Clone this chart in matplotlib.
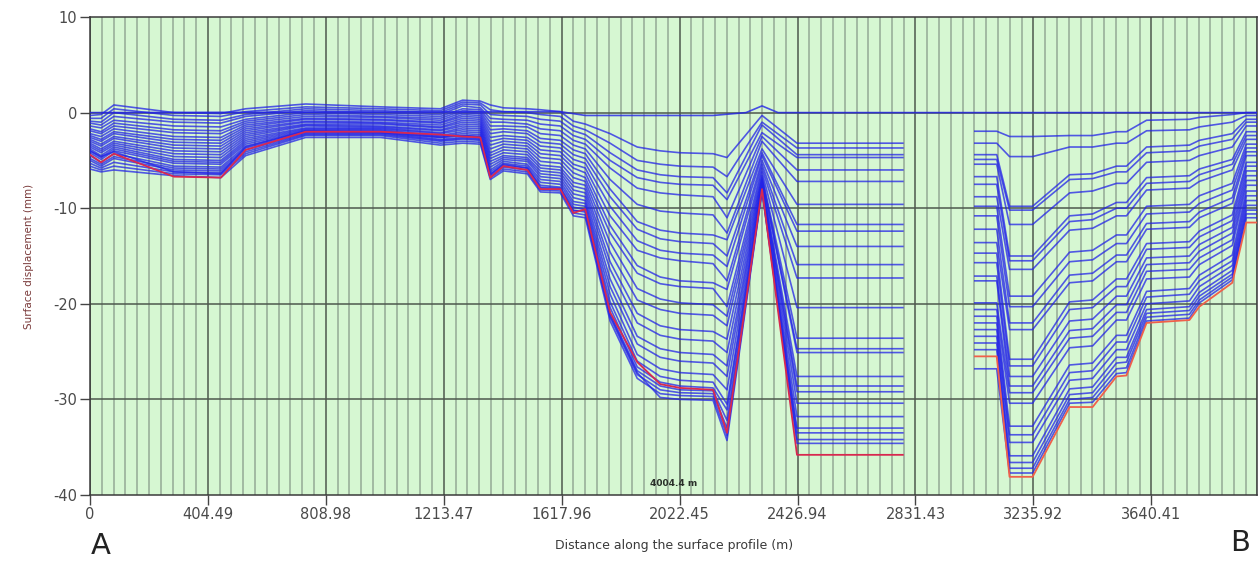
import numpy as np
import matplotlib
matplotlib.use('Agg')
import matplotlib.pyplot as plt

plt.rcParams['axes.unicode_minus'] = False

# vertex positions along the profile (m), two measured stretches with a gap between
seg1_x = [0, 38, 82, 288, 449, 534, 740, 997, 1202, 1278, 1339, 1373, 1418, 1500, 1545,
          1613, 1658, 1699, 1784, 1877, 1956, 2024, 2137, 2185, 2305, 2425, 2788]
seg2_x = [3035, 3110, 3154, 3233, 3360, 3439, 3521, 3555, 3624, 3771, 3805, 3918, 3966, 4004]

# first epoch (reference), runs across the whole profile
base_x = [0, 1613, 1699, 2137, 2250, 2305, 2360, 4004]
base_y = [0, 0.1, -0.3, -0.3, 0, 0.7, 0, 0]

# last epoch (red)
final_seg1 = [-4.4, -5.2, -4.3, -6.7, -6.8, -3.9, -2.0, -2.0, -2.3, -2.5, -2.6, -6.8, -5.6, -6.0,
              -8.0, -8.0, -10.5, -10.1, -20.9, -26.1, -28.4, -28.8, -29.0, -33.5, -8.0, -35.8, -35.8]
final_seg2 = [-25.5, -25.5, -38.1, -38.1, -30.8, -30.8, -27.6, -27.5, -22.0, -21.7, -20.3, -17.8,
              -11.5, -11.5]

# intermediate epochs (blue): one row per vertex, one value per epoch
seg1_levels = [
    [-0.3, -0.6, -0.9, -1.1, -1.4, -1.7, -1.9, -2.2, -2.4, -2.6, -2.8, -3.0, -3.2, -3.4, -3.6, -3.8, -4.0, -4.2, -4.5, -4.8, -5.0, -5.3, -5.6, -5.9, -4.0],
    [-0.2, -0.6, -1.0, -1.3, -1.6, -2.0, -2.2, -2.5, -2.8, -3.0, -3.3, -3.5, -3.8, -4.0, -4.2, -4.5, -4.7, -4.9, -5.2, -5.4, -5.6, -5.8, -6.0, -6.2, -4.6],
    [0.8, 0.4, 0.0, -0.4, -0.8, -1.1, -1.4, -1.7, -2.0, -2.2, -2.5, -2.7, -3.0, -3.2, -3.4, -3.6, -3.8, -4.0, -4.3, -4.6, -4.8, -5.2, -5.6, -6.0, -4.1],
    [0.0, -0.3, -0.7, -1.0, -1.4, -1.8, -2.1, -2.5, -2.8, -3.1, -3.4, -3.7, -4.0, -4.3, -4.6, -4.9, -5.1, -5.3, -5.6, -5.8, -6.0, -6.2, -6.4, -6.6, -6.2],
    [-0.1, -0.4, -0.8, -1.1, -1.5, -1.9, -2.2, -2.6, -2.9, -3.2, -3.5, -3.8, -4.1, -4.4, -4.7, -5.0, -5.2, -5.4, -5.7, -5.9, -6.1, -6.3, -6.5, -6.8, -6.4],
    [0.4, 0.1, -0.2, -0.4, -0.7, -0.9, -1.1, -1.3, -1.5, -1.7, -1.9, -2.1, -2.3, -2.5, -2.7, -2.9, -3.1, -3.3, -3.5, -3.7, -3.9, -4.1, -4.3, -4.5, -3.6],
    [0.9, 0.6, 0.4, 0.2, 0.0, -0.2, -0.4, -0.6, -0.7, -0.9, -1.0, -1.2, -1.3, -1.4, -1.6, -1.7, -1.8, -1.9, -2.0, -2.1, -2.2, -2.3, -2.4, -2.6, -1.9],
    [0.6, 0.4, 0.2, 0.0, -0.2, -0.4, -0.5, -0.7, -0.8, -1.0, -1.1, -1.2, -1.4, -1.5, -1.6, -1.7, -1.8, -1.9, -2.0, -2.1, -2.2, -2.3, -2.4, -2.6, -2.1],
    [0.4, 0.2, 0.0, -0.2, -0.4, -0.6, -0.8, -1.0, -1.1, -1.3, -1.5, -1.6, -1.8, -1.9, -2.1, -2.2, -2.4, -2.5, -2.6, -2.8, -2.9, -3.0, -3.2, -3.4, -2.6],
    [1.3, 1.1, 0.9, 0.7, 0.4, 0.2, 0.0, -0.2, -0.4, -0.6, -0.8, -1.0, -1.2, -1.4, -1.6, -1.8, -2.0, -2.2, -2.4, -2.6, -2.7, -2.8, -3.0, -3.2, -2.4],
    [1.2, 1.0, 0.8, 0.5, 0.3, 0.1, -0.1, -0.3, -0.5, -0.7, -0.9, -1.1, -1.3, -1.5, -1.7, -1.9, -2.1, -2.3, -2.5, -2.7, -2.8, -2.9, -3.1, -3.3, -2.5],
    [0.8, 0.3, -0.2, -0.6, -1.0, -1.4, -1.8, -2.2, -2.6, -3.0, -3.4, -3.8, -4.2, -4.5, -4.8, -5.1, -5.4, -5.7, -6.0, -6.2, -6.4, -6.6, -6.8, -7.0, -6.5],
    [0.5, 0.1, -0.3, -0.7, -1.0, -1.4, -1.7, -2.0, -2.4, -2.7, -3.0, -3.3, -3.6, -3.9, -4.2, -4.5, -4.7, -4.9, -5.1, -5.3, -5.5, -5.7, -5.9, -6.1, -5.4],
    [0.4, 0.0, -0.4, -0.8, -1.2, -1.5, -1.9, -2.2, -2.6, -2.9, -3.2, -3.5, -3.8, -4.1, -4.4, -4.7, -4.9, -5.1, -5.4, -5.6, -5.8, -6.0, -6.2, -6.4, -5.8],
    [0.3, -0.2, -0.7, -1.2, -1.7, -2.2, -2.7, -3.1, -3.5, -3.9, -4.3, -4.7, -5.1, -5.5, -5.8, -6.1, -6.4, -6.7, -7.0, -7.3, -7.6, -7.9, -8.1, -8.3, -7.8],
    [0.1, -0.4, -0.9, -1.4, -1.9, -2.4, -2.9, -3.3, -3.7, -4.1, -4.5, -4.9, -5.3, -5.7, -6.0, -6.3, -6.6, -6.9, -7.2, -7.5, -7.8, -8.0, -8.2, -8.4, -7.9],
    [-0.9, -1.4, -1.9, -2.4, -2.9, -3.4, -3.9, -4.4, -4.9, -5.4, -5.8, -6.3, -6.8, -7.3, -7.7, -8.1, -8.5, -8.9, -9.3, -9.6, -9.9, -10.2, -10.5, -10.8, -10.3],
    [-1.2, -1.8, -2.3, -2.8, -3.3, -3.8, -4.3, -4.8, -5.3, -5.8, -6.3, -6.8, -7.2, -7.6, -8.0, -8.4, -8.8, -9.2, -9.5, -9.8, -10.1, -10.4, -10.7, -11.0, -10.2],
    [-2.2, -3.2, -4.2, -5.0, -5.8, -7.0, -8.0, -8.8, -9.8, -10.8, -11.8, -12.6, -13.6, -14.6, -15.6, -16.4, -17.4, -18.2, -19.0, -19.8, -20.4, -21.0, -21.4, -21.8, -21.2],
    [-3.6, -5.0, -6.0, -6.8, -7.9, -9.6, -11.4, -12.2, -13.4, -14.4, -16.0, -16.8, -18.4, -19.6, -21.0, -22.0, -23.4, -24.2, -25.3, -26.0, -26.6, -27.0, -27.4, -27.8, -27.2],
    [-4.0, -5.4, -6.5, -7.3, -8.4, -10.3, -12.3, -13.2, -14.4, -15.2, -17.2, -17.9, -19.5, -20.6, -22.3, -23.3, -24.7, -25.6, -26.8, -27.6, -28.2, -28.6, -29.0, -29.4, -29.8],
    [-4.2, -5.6, -6.7, -7.5, -8.6, -10.5, -12.6, -13.5, -14.7, -15.5, -17.6, -18.2, -19.9, -21.0, -22.7, -23.7, -25.1, -26.0, -27.2, -28.0, -28.6, -29.0, -29.3, -29.6, -30.0],
    [-4.3, -5.7, -6.8, -7.6, -8.8, -10.7, -12.8, -13.7, -14.9, -15.8, -17.8, -18.4, -20.1, -21.2, -22.9, -23.9, -25.3, -26.2, -27.4, -28.2, -28.8, -29.1, -29.4, -29.7, -30.1],
    [-4.7, -6.7, -8.4, -9.1, -11.0, -12.6, -13.3, -15.0, -16.1, -17.6, -18.5, -20.3, -21.3, -22.3, -23.7, -25.1, -26.5, -27.6, -29.0, -30.5, -31.1, -32.2, -33.0, -33.8, -34.3],
    [-0.3, -1.0, -1.3, -2.1, -2.5, -3.0, -3.8, -4.2, -4.5, -5.0, -5.4, -5.8, -6.2, -6.6, -6.8, -7.0, -7.2, -7.4, -7.6, -7.7, -7.8, -7.9, -8.0, -8.1, -8.2],
    [-3.2, -3.7, -4.4, -4.7, -6.0, -7.2, -9.6, -11.7, -12.4, -14.0, -15.9, -17.3, -20.4, -23.6, -24.7, -25.1, -27.6, -28.6, -29.2, -30.4, -31.8, -33.0, -33.5, -34.2, -34.6],
    [-3.2, -3.7, -4.4, -4.7, -6.0, -7.2, -9.6, -11.7, -12.4, -14.0, -15.9, -17.3, -20.4, -23.6, -24.7, -25.1, -27.6, -28.6, -29.2, -30.4, -31.8, -33.0, -33.5, -34.2, -34.6],
]
seg2_levels = [
    [-1.95, -3.2, -4.4, -4.9, -5.4, -6.7, -7.5, -8.8, -9.8, -10.8, -12.2, -13.6, -14.7, -15.7, -17.1, -17.6, -19.9, -20.6, -21.3, -22.0, -22.7, -23.4, -24.1, -24.8, -26.8],
    [-1.95, -3.2, -4.4, -4.9, -5.4, -6.7, -7.5, -8.8, -9.8, -10.8, -12.2, -13.6, -14.7, -15.7, -17.1, -17.6, -19.9, -20.6, -21.3, -22.0, -22.7, -23.4, -24.1, -24.8, -26.8],
    [-2.5, -4.6, -9.8, -10.2, -11.7, -15.0, -15.5, -16.4, -19.2, -20.3, -22.0, -22.7, -25.8, -26.5, -27.6, -28.6, -29.3, -30.4, -32.8, -33.7, -34.5, -35.9, -36.6, -37.2, -37.7],
    [-2.5, -4.6, -9.8, -10.2, -11.7, -15.0, -15.5, -16.4, -19.2, -20.3, -22.0, -22.7, -25.8, -26.5, -27.6, -28.6, -29.3, -30.4, -32.8, -33.7, -34.5, -35.9, -36.6, -37.2, -37.7],
    [-2.4, -3.6, -6.5, -7.0, -8.4, -10.8, -11.4, -12.3, -14.6, -15.6, -17.0, -17.8, -19.8, -20.6, -21.8, -22.8, -23.6, -24.6, -26.4, -27.2, -28.0, -28.9, -29.5, -30.0, -30.4],
    [-2.4, -3.6, -6.4, -6.9, -8.2, -10.6, -11.2, -12.1, -14.4, -15.4, -16.8, -17.6, -19.6, -20.4, -21.6, -22.6, -23.4, -24.4, -26.2, -27.0, -27.8, -28.7, -29.3, -29.8, -30.3],
    [-2.0, -3.2, -5.6, -6.2, -7.4, -9.4, -10.0, -10.8, -12.8, -13.7, -14.9, -15.6, -17.4, -18.2, -19.2, -20.1, -20.9, -21.7, -23.3, -24.0, -24.8, -25.6, -26.2, -26.8, -27.3],
    [-2.0, -3.2, -5.6, -6.2, -7.4, -9.4, -10.0, -10.8, -12.8, -13.7, -14.9, -15.6, -17.4, -18.2, -19.2, -20.1, -20.9, -21.7, -23.3, -24.0, -24.8, -25.6, -26.1, -26.7, -27.2],
    [-0.8, -1.9, -3.6, -4.2, -5.2, -6.8, -7.4, -8.1, -9.8, -10.6, -11.6, -12.2, -13.7, -14.3, -15.2, -15.9, -16.6, -17.4, -18.7, -19.3, -20.0, -20.6, -21.0, -21.4, -21.8],
    [-0.7, -1.8, -3.4, -4.0, -5.0, -6.6, -7.2, -7.9, -9.6, -10.4, -11.4, -12.0, -13.5, -14.1, -15.0, -15.7, -16.4, -17.2, -18.4, -19.0, -19.7, -20.3, -20.7, -21.1, -21.5],
    [-0.5, -1.5, -2.9, -3.5, -4.5, -5.9, -6.5, -7.2, -8.7, -9.5, -10.4, -11.0, -12.4, -13.0, -13.8, -14.5, -15.2, -15.9, -17.0, -17.6, -18.2, -18.8, -19.2, -19.6, -19.9],
    [-0.2, -1.0, -2.2, -2.8, -3.6, -4.9, -5.4, -6.0, -7.4, -8.1, -8.9, -9.5, -10.7, -11.3, -12.0, -12.6, -13.3, -13.9, -14.9, -15.5, -16.0, -16.5, -16.9, -17.2, -17.5],
    [0.0, -0.3, -0.7, -1.0, -1.4, -2.0, -2.4, -2.8, -3.3, -3.7, -4.1, -4.5, -5.2, -5.6, -6.1, -6.6, -7.1, -7.6, -8.2, -8.7, -9.2, -9.7, -10.2, -10.6, -11.0],
    [0.0, -0.3, -0.7, -1.0, -1.4, -2.0, -2.4, -2.8, -3.3, -3.7, -4.1, -4.5, -5.2, -5.6, -6.1, -6.6, -7.1, -7.6, -8.2, -8.7, -9.2, -9.7, -10.2, -10.6, -11.0],
]

tick_step = 404.49
xtick_labels = ['0', '404.49', '808.98', '1213.47', '1617.96', '2022.45', '2426.94',
                '2831.43', '3235.92', '3640.41']
profile_length = 4004.4

fig = plt.figure(figsize=(12.6, 5.63), dpi=100)
ax = fig.add_axes([0.0714, 0.1208, 0.9266, 0.849])
ax.set_facecolor('#d6f7d2')

ax.set_xlim(0, profile_length)
ax.set_ylim(-40, 10)

# grid
for k in range(100):
    xv = k * tick_step / 10
    if k % 10 == 0:
        ax.axvline(xv, color='#4e584e', lw=1.1, zorder=1)
    else:
        ax.axvline(xv, color='#a2baa2', lw=1.4, zorder=1)
for yv in range(-30, 10, 10):
    ax.axhline(yv, color='#4e584e', lw=1.1, zorder=1)

blue1 = np.array(seg1_levels).T
blue2 = np.array(seg2_levels).T
for row in blue1:
    ax.plot(seg1_x, row, color='#2222e8', lw=1.2, alpha=0.75, zorder=3)
for row in blue2:
    ax.plot(seg2_x, row, color='#2222e8', lw=1.2, alpha=0.75, zorder=3)
ax.plot(base_x, base_y, color='#2222e8', lw=1.2, alpha=0.8, zorder=3)

ax.plot(seg1_x, final_seg1, color='#d82850', lw=1.3, zorder=4)
ax.plot(seg2_x, final_seg2, color='#f0604a', lw=1.3, zorder=4)

ax.set_xticks([k * tick_step for k in range(10)])
ax.set_xticklabels(xtick_labels)
ax.set_yticks([10, 0, -10, -20, -30, -40])
ax.tick_params(direction='out', length=7, width=1, color='#444444', labelcolor='#4a4a4a',
               labelsize=10.5, pad=2)
for s in ax.spines.values():
    s.set_color('#3a3a3a')
    s.set_linewidth(1.1)

ax.set_xlabel('Distance along the surface profile (m)', fontsize=9, color='#3a3a3a', labelpad=12)
ax.set_ylabel('Surface displacement (mm)', fontsize=7.5, color='#7a3a3a', labelpad=14)

ax.text(profile_length / 2, -39.3, '4004.4 m', fontsize=6.5, fontweight='bold', color='#2a302a',
        ha='center', va='bottom', zorder=5)
fig.text(0.080, 0.005, 'A', fontsize=21, color='#222222', ha='center', va='bottom')
fig.text(0.984, 0.010, 'B', fontsize=21, color='#222222', ha='center', va='bottom')

fig.savefig('out.png', dpi=100)
